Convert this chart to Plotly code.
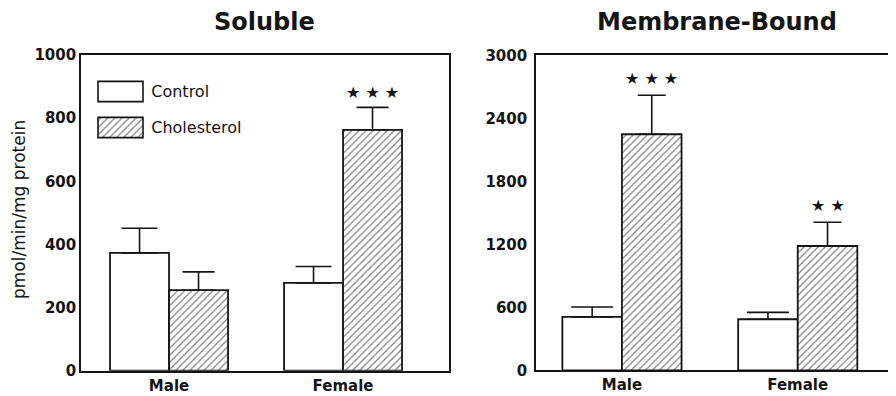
import plotly.graph_objects as go

categories = ["Male", "Female"]
soluble_control = [373, 278]
soluble_control_err = [78, 52]
soluble_chol = [255, 763]
soluble_chol_err = [58, 71]
membrane_control = [508, 486]
membrane_control_err = [95, 66]
membrane_chol = [2248, 1184]
membrane_chol_err = [371, 226]
soluble_ticks = [0, 200, 400, 600, 800, 1000]
membrane_ticks = [0, 600, 1200, 1800, 2400, 3000]
legend_labels = ["Control", "Cholesterol"]
soluble_stars = ["", "★ ★ ★"]
membrane_stars = ["★ ★ ★", "★ ★"]

FONT = "DejaVu Sans"
INK = "#141414"
BW = 0.339

# page body has an 8px margin; figure sized to fill the rest of the window
OFF = 8
W, H = 896 - OFF, 396 - OFF


def px(x):
    return (x - OFF) / W


def py(y):
    return 1 - (y - OFF) / H


hatch = dict(shape="/", fgcolor="black", bgcolor="white", size=5, solidity=0.24)
outline = dict(color=INK, width=1.8)


def err(arr, w):
    return dict(type="data", array=arr, arrayminus=[0] * len(arr), symmetric=False,
                color=INK, thickness=1.6, width=w)


fig = go.Figure()
# Soluble
fig.add_trace(go.Bar(x=categories, y=soluble_control, offset=-BW, width=BW,
                     marker=dict(color="white", line=outline),
                     error_y=err(soluble_control_err, 18), xaxis="x", yaxis="y",
                     name="Control", showlegend=False))
fig.add_trace(go.Bar(x=categories, y=soluble_chol, offset=0, width=BW,
                     marker=dict(color="white", line=outline, pattern=hatch),
                     error_y=err(soluble_chol_err, 16), xaxis="x", yaxis="y",
                     name="Cholesterol", showlegend=False))
# Membrane-bound
fig.add_trace(go.Bar(x=categories, y=membrane_control, offset=-BW, width=BW,
                     marker=dict(color="white", line=outline),
                     error_y=err(membrane_control_err, 21), xaxis="x2", yaxis="y2",
                     name="Control", showlegend=False))
fig.add_trace(go.Bar(x=categories, y=membrane_chol, offset=0, width=BW,
                     marker=dict(color="white", line=outline, pattern=hatch),
                     error_y=err(membrane_chol_err, 14), xaxis="x2", yaxis="y2",
                     name="Cholesterol", showlegend=False))
# Legend swatches
fig.add_trace(go.Bar(x=[1, 1], y=legend_labels, orientation="h", width=0.56,
                     marker=dict(color="white", line=dict(color=INK, width=1.6),
                                 pattern=dict(shape=["", "/"], fgcolor="black", bgcolor="white",
                                              size=5, solidity=0.24)),
                     xaxis="x3", yaxis="y3", showlegend=False, hoverinfo="skip"))

star_font = dict(family=FONT, size=16, color=INK)
annotations = []
for i, t in enumerate(soluble_stars):
    if t:
        annotations.append(dict(x=i + BW / 2, y=soluble_chol[i] + soluble_chol_err[i], xref="x", yref="y",
                                text=t, showarrow=False, yshift=15, yanchor="middle", font=star_font))
for i, t in enumerate(membrane_stars):
    if t:
        annotations.append(dict(x=i + BW / 2, y=membrane_chol[i] + membrane_chol_err[i], xref="x2", yref="y2",
                                text=t, showarrow=False, yshift=17, yanchor="middle", font=star_font))
annotations += [
    dict(x=px(264), y=py(22), xref="paper", yref="paper", text="Soluble", showarrow=False,
         xanchor="center", yanchor="middle", font=dict(family=FONT, size=24, weight=700, color=INK)),
    dict(x=px(717), y=py(22), xref="paper", yref="paper", text="Membrane-Bound", showarrow=False,
         xanchor="center", yanchor="middle", font=dict(family=FONT, size=24, weight=700, color=INK)),
    dict(x=px(19), y=py(210), xref="paper", yref="paper", text="pmol/min/mg protein",
         showarrow=False, textangle=-90, xanchor="center", yanchor="middle",
         font=dict(family=FONT, size=17, color=INK)),
]

tickfont = dict(family=FONT, size=15, weight=700, color=INK)
common_x = dict(showline=True, mirror=True, linecolor=INK, linewidth=1.6, ticks="", showgrid=False,
                zeroline=False, tickfont=tickfont, automargin=False, fixedrange=True)
common_y = dict(showline=True, mirror=True, linecolor=INK, linewidth=1.6, ticks="", showgrid=False,
                zeroline=False, tickfont=dict(family=FONT, size=15, weight=700, color=INK),
                automargin=False)

fig.update_layout(
    width=W, height=H,
    margin=dict(l=0, r=0, t=0, b=0),
    paper_bgcolor="white", plot_bgcolor="white",
    barmode="overlay",
    showlegend=False,
    annotations=annotations,
    xaxis=dict(domain=[px(81), px(449)], range=[-0.506, 1.609], anchor="y", **common_x),
    yaxis=dict(domain=[py(370.7), py(55)], range=[0, 1000], tickvals=soluble_ticks,
               anchor="x", ticklabelstandoff=0, **common_y),
    xaxis2=dict(domain=[px(536), 1.0], range=[-0.489, 1.559], anchor="y2", **common_x),
    yaxis2=dict(domain=[py(370.3), py(55.3)], range=[0, 3000], tickvals=membrane_ticks,
                anchor="x2", ticklabelstandoff=4, **common_y),
    xaxis3=dict(domain=[px(95.75), px(145.25)], range=[-0.05, 1.05], anchor="y3", visible=False,
                fixedrange=True),
    yaxis3=dict(domain=[py(145.5), py(73.5)], type="category", categoryarray=legend_labels,
                range=[1.5, -0.5], anchor="x3", side="right", showline=False, showgrid=False,
                zeroline=False, ticks="", ticklabelstandoff=5,
                tickfont=dict(family=FONT, size=16, color=INK), automargin=False),
)

fig.write_html("out.html")
